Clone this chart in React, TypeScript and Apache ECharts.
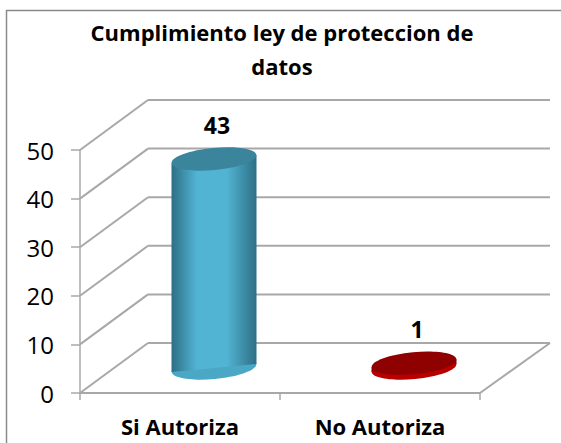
import React, { useEffect, useRef } from "react";
import * as echarts from "echarts";

const categories = ["Si Autoriza", "No Autoriza"];
const values = [43, 1];
const barColors = [
  { edge: "#2d6f85", mid: "#52b4d3", top: "#3a859c", bottom: "#4aa8c6" },
  { edge: "#8f0000", mid: "#b80000", top: "#8f0000", bottom: "#b80000" },
];
const gridValues = [0, 10, 20, 30, 40, 50];
const titleText = "Cumplimiento ley de proteccion de\ndatos";
const FONT = "'Open Sans', Lato, sans-serif";
const GRID = "#a8a8a8";
const DEPTH_X = 68;
const DEPTH_Y = -50;

export default function App() {
  const ref = useRef<HTMLDivElement>(null);
  useEffect(() => {
    const chart = echarts.init(ref.current!, undefined, { renderer: "svg" });
    chart.setOption({
      animation: false,
      backgroundColor: "#ffffff",
      graphic: [
        {
          type: "polyline",
          z: 0,
          shape: { points: [[6.5, 443], [6.5, 10.5], [561, 10.5]] },
          style: { fill: "none", stroke: "#8a8a8a", lineWidth: 1.5 },
        },
      ],
      title: {
        text: titleText,
        left: 277,
        top: 10,
        textAlign: "center",
        textStyle: { fontFamily: FONT, fontSize: 22, fontWeight: "bold", color: "#000", lineHeight: 34 },
      },
      grid: { left: 80, right: 81, top: 150, bottom: 50 },
      xAxis: {
        type: "category",
        data: categories,
        axisLine: { lineStyle: { color: GRID, width: 2 } },
        axisTick: { show: true, length: 7, alignWithLabel: false, lineStyle: { color: GRID, width: 1.5 } },
        axisLabel: { fontFamily: FONT, fontSize: 22, fontWeight: "bold", color: "#000", margin: 22 },
      },
      yAxis: {
        type: "value",
        min: 0,
        max: 50,
        interval: 10,
        splitLine: { show: false },
        axisLine: { show: true, lineStyle: { color: GRID, width: 1.5 } },
        axisTick: { show: true, length: 9, lineStyle: { color: GRID, width: 1.5 } },
        axisLabel: { fontFamily: FONT, fontSize: 24, color: "#000", margin: 26 },
      },
      series: [
        {
          type: "custom",
          z: 1,
          silent: true,
          coordinateSystem: "cartesian2d",
          data: gridValues.map((v) => [0, v]),
          renderItem: (_p: any, api: any) => {
            const v = api.value(1);
            const size = api.size([1, 0]);
            const p = api.coord([0, v]);
            const x0 = p[0] - size[0] / 2;
            const y = p[1];
            const x1 = x0 + size[0] * 2;
            const style = { stroke: GRID, lineWidth: 2, fill: "none" };
            const children: any[] = [
              { type: "line", shape: { x1: x0, y1: y, x2: x0 + DEPTH_X, y2: y + DEPTH_Y }, style },
              { type: "line", shape: { x1: x0 + DEPTH_X, y1: y + DEPTH_Y, x2: x1 + DEPTH_X + 2, y2: y + DEPTH_Y }, style },
            ];
            if (v === 0) {
              children.push({ type: "line", shape: { x1, y1: y, x2: x1 + DEPTH_X + 2, y2: y + DEPTH_Y }, style });
            }
            return { type: "group", children };
          },
        },
        {
          type: "custom",
          z: 2,
          silent: true,
          coordinateSystem: "cartesian2d",
          data: values.map((v, i) => [i, v]),
          renderItem: (params: any, api: any) => {
            const i = api.value(0);
            const c = barColors[params.dataIndex];
            const base = api.coord([i, 0]);
            const topP = api.coord([i, api.value(1)]);
            const cx = base[0] + DEPTH_X / 2;
            const by = base[1] + DEPTH_Y / 2;
            const ty = topP[1] + DEPTH_Y / 2;
            const rx = 42.5;
            const ry = 11;
            const tiltY = 4;
            const fill = new echarts.graphic.LinearGradient(0, 0, 1, 0, [
              { offset: 0, color: c.edge },
              { offset: 0.3, color: c.mid },
              { offset: 0.65, color: c.mid },
              { offset: 1, color: c.edge },
            ]);
            const rot = Math.atan2(tiltY, rx);
            return {
              type: "group",
              children: [
                {
                  type: "ellipse",
                  x: cx,
                  y: by,
                  rotation: rot,
                  shape: { cx: 0, cy: 0, rx, ry },
                  style: { fill: c.bottom },
                },
                {
                  type: "polygon",
                  shape: {
                    points: [
                      [cx - rx, ty + tiltY],
                      [cx + rx, ty - tiltY],
                      [cx + rx, by - tiltY],
                      [cx - rx, by + tiltY],
                    ],
                  },
                  style: { fill },
                },
                {
                  type: "ellipse",
                  x: cx,
                  y: ty,
                  rotation: rot,
                  shape: { cx: 0, cy: 0, rx, ry },
                  style: { fill: c.top },
                },
                {
                  type: "text",
                  x: cx + 3,
                  y: ty - 34,
                  style: {
                    text: String(api.value(1)),
                    fontFamily: FONT,
                    fontSize: 23,
                    fontWeight: "bold",
                    fill: "#000",
                    align: "center",
                    verticalAlign: "middle",
                  },
                },
              ],
            };
          },
        },
      ],
    });
    return () => chart.dispose();
  }, []);
  return <div ref={ref} style={{ position: "fixed", left: 0, top: 0, width: 561, height: 443 }} />;
}
